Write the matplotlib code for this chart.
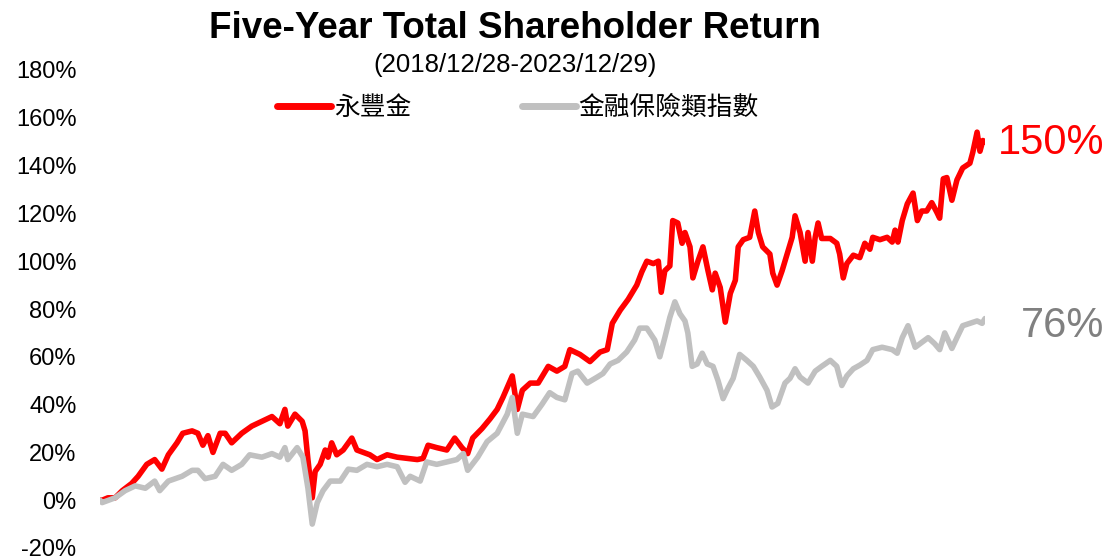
import matplotlib
matplotlib.use("Agg")
from matplotlib import pyplot as plt

plt.rcParams["font.family"] = ["Liberation Sans", "Noto Sans CJK TC"]

# trading-day index since 2018/12/28, cumulative return in %
sinopac_day = [0, 3, 11, 21, 31, 44, 53, 65, 76, 86, 95, 107, 115, 128, 136, 143, 150, 157,
               167, 174, 183, 197, 211, 225, 239, 250, 257, 261, 271, 281, 285, 289, 295, 299,
               306, 313, 317, 322, 329, 338, 350, 357, 366, 375, 385, 399, 413, 427, 441, 449,
               456, 468, 482, 493, 503, 511, 518, 531, 542, 552, 560, 573, 580, 587, 598, 609,
               623, 635, 646, 653, 667, 681, 695, 705, 712, 723, 734, 746, 753, 760, 769, 776,
               780, 785, 792, 796, 803, 809, 813, 820, 824, 831, 838, 845, 851, 855, 862, 869,
               876, 883, 887, 894, 903, 910, 915, 921, 931, 935, 941, 948, 955, 962, 966, 973,
               980, 984, 990, 994, 998, 1003, 1015, 1024, 1028, 1033, 1038, 1047, 1056, 1063,
               1070, 1074, 1084, 1094, 1101, 1105, 1109, 1115, 1122, 1130, 1136, 1142, 1149,
               1156, 1163, 1167, 1172, 1177, 1184, 1191, 1199, 1209, 1213, 1219, 1223, 1227, 1230]
sinopac_ret = [0, 0, 1, 1, 4, 7, 10, 15, 17, 13, 19, 24, 28, 29, 28, 23, 27, 20,
               28, 28, 24, 28, 31, 33, 35, 32, 38, 31, 36, 33, 29, 17, 1, 12,
               15, 21, 18, 24, 19, 21, 26, 21, 20, 19, 17, 19, 18, 17.5, 17, 17.5,
               23, 22, 21, 26, 22, 19.5, 26, 30, 34, 38, 43, 52, 38, 46, 49, 49,
               56, 54, 56, 63, 61, 58, 62, 63, 74, 79.5, 84, 90, 95.5, 100, 99, 100,
               87, 96, 98, 117, 116, 107.5, 112, 106, 93, 100, 106, 96, 88, 95, 89, 74.5,
               86.5, 92, 106, 109, 110, 121, 112, 106, 103, 95, 90, 96, 103, 110, 119, 112,
               100, 112, 100, 110, 116, 109.5, 109.5, 107.5, 103, 93, 99, 102.5, 101.5, 107.5,
               105, 110, 109, 110, 108, 113, 108, 117, 124, 128.5, 117, 121, 121,
               124.5, 120.5, 118, 134.5, 135, 125.5, 134, 139, 141, 145.5, 154, 146, 150.5, 150]

index_day = [0, 3, 21, 35, 49, 63, 76, 83, 95, 114, 128, 136, 146, 160, 171, 183, 197, 208,
             225, 239, 250, 257, 261, 274, 282, 289, 295, 302, 310, 320, 334, 345, 357, 371,
             385, 399, 413, 424, 431, 445, 454, 468, 482, 496, 505, 511, 525, 538, 552, 566,
             573, 580, 587, 602, 614, 625, 635, 646, 656, 664, 677, 691, 699, 709, 720, 732,
             743, 750, 760, 771, 778, 785, 792, 799, 806, 813, 817, 823, 830, 837, 844, 852,
             859, 866, 873, 880, 889, 899, 908, 917, 927, 934, 942, 952, 959, 966, 973, 984,
             994, 1003, 1015, 1024, 1031, 1038, 1047, 1056, 1066, 1074, 1087, 1101, 1108,
             1115, 1123, 1133, 1142, 1151, 1160, 1167, 1174, 1184, 1191, 1199, 1209, 1219,
             1226, 1230]
index_ret = [0, -1, 1, 4, 6, 5, 8, 4, 8, 10, 12.5, 12.5, 9, 10, 15, 12.5, 15, 19,
             18, 19.5, 18, 22, 17, 22, 18, 5, -10, -1, 4, 8, 8, 13, 12.5, 15,
             14, 15, 14, 7.5, 10, 8, 16, 15, 16, 17, 19.5, 12.5, 18, 24.5, 28, 36,
             43, 28, 36, 35, 40, 45, 43, 42, 53, 54, 49, 51.5, 53, 57, 58.5, 62,
             67, 72, 72, 67, 60, 68, 76.5, 83, 78, 75, 70, 56, 57, 61.5, 57, 56,
             50, 42.5, 47, 51, 61, 58.5, 56, 51.5, 46, 39, 40.5, 49, 51, 55, 51.5, 49,
             54, 56, 58.5, 56, 48, 52, 55, 56.5, 58.5, 63, 64, 63, 61.5,
             68, 73, 64, 66, 68, 65.5, 63, 70, 63.5, 68, 73, 74, 75,
             74, 76]

yticks = [-20, 0, 20, 40, 60, 80, 100, 120, 140, 160, 180]
names = ["永豐金", "金融保險類指數"]
end_labels = ["150%", "76%"]

red = "#FF0000"
grey = "#C0C0C0"

fig = plt.figure(figsize=(11.12, 5.6), dpi=100)
ax = fig.add_axes([100 / 1112, 12 / 560, 885 / 1112, 478 / 560])

ax.plot(sinopac_day, sinopac_ret, color=red, lw=4, label=names[0],
        solid_joinstyle="round", solid_capstyle="round", zorder=2)
ax.plot(index_day, index_ret, color=grey, lw=4, label=names[1],
        solid_joinstyle="round", solid_capstyle="round", zorder=3)

ax.set_xlim(0, 1230)
ax.set_ylim(-20, 180)
ax.set_yticks(yticks)
ax.set_yticklabels([f"{t}%" for t in yticks])
ax.set_xticks([])
ax.tick_params(axis="y", length=0, pad=17, labelsize=17)
for s in ax.spines.values():
    s.set_visible(False)

ax.annotate(end_labels[0], xy=(1.0, sinopac_ret[-1]), xycoords=("axes fraction", "data"),
            xytext=(86, -1), textcoords="offset points", ha="right", va="center",
            fontsize=30, color=red)
ax.annotate(end_labels[1], xy=(1.0, index_ret[-1]), xycoords=("axes fraction", "data"),
            xytext=(86, -5), textcoords="offset points", ha="right", va="center",
            fontsize=30, color="#808080")

fig.text(515 / 1112, 1 - 28 / 560, "Five-Year Total Shareholder Return",
         ha="center", va="center", fontsize=26.5, fontweight="bold")
fig.text(515 / 1112, 1 - 65 / 560, "(2018/12/28-2023/12/29)",
         ha="center", va="center", fontsize=18.5)

leg = ax.legend(loc="center", bbox_to_anchor=(518 / 1112, 1 - 108 / 560),
                bbox_transform=fig.transFigure, ncol=2, frameon=False,
                fontsize=18.5, handlelength=2.1, handletextpad=0.1,
                columnspacing=4.3, borderpad=0)
for line in leg.get_lines():
    line.set_linewidth(5)

fig.savefig("out.png", dpi=100)
